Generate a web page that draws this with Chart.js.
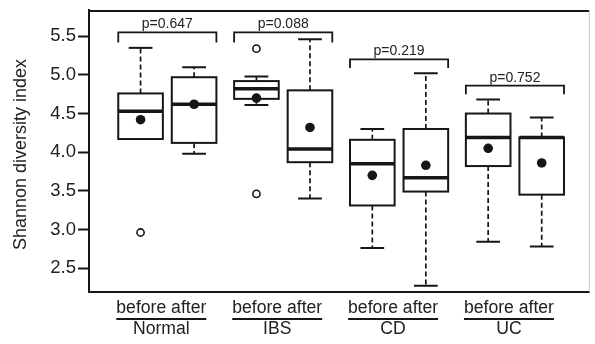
<!DOCTYPE html>
<html>
<head>
<meta charset="utf-8">
<script src="https://cdn.jsdelivr.net/npm/chart.js@4"></script>
<style>
  body { margin: 0; background: #fff; }
  canvas { display: block; background: #fff; }
</style>
</head>
<body>
<canvas id="chart" width="595" height="344"></canvas>
<script>
// groups and time points
const groups = ['Normal', 'IBS', 'CD', 'UC'];
const timepoints = ['before', 'after'];
const pValues = ['p=0.647', 'p=0.088', 'p=0.219', 'p=0.752'];
const yTitle = 'Shannon diversity index';

// box statistics, order: Normal before, Normal after, IBS before, ...
const whiskerLow  = [4.17, 3.98, 4.61, 3.40, 2.76, 2.27, 2.84, 2.78];
const q1          = [4.17, 4.12, 4.69, 3.87, 3.31, 3.49, 3.82, 3.45];
const medians     = [4.53, 4.62, 4.82, 4.04, 3.85, 3.67, 4.19, 4.19];
const q3          = [4.76, 4.97, 4.92, 4.80, 4.16, 4.30, 4.50, 4.19];
const whiskerHigh = [5.35, 5.10, 4.98, 5.46, 4.30, 5.02, 4.68, 4.45];
const means       = [4.42, 4.62, 4.70, 4.32, 3.70, 3.83, 4.05, 3.86];
const outliers    = [[2.96], [], [5.34, 3.46], [], [], [], [], []];

// bracket heights for the p-values (top line, end of legs)
const bracketTop = [5.55, 5.55, 5.20, 4.86];
const bracketLeg = [5.42, 5.42, 5.09, 4.75];

const yTicks = [2.5, 3.0, 3.5, 4.0, 4.5, 5.0, 5.5];

// layout constants
const PAIR_OFFSET = 0.231;
const BOX_W = 0.385;
const CAP_W = 0.205;
const INK = '#161616';
const FONT = '"Liberation Sans", Arial, sans-serif';

function xPos(i) {
    const g = Math.floor(i / 2);
    return g + (i % 2 === 0 ? -PAIR_OFFSET : PAIR_OFFSET);
}

const meanPoints = means.map((v, i) => ({ x: xPos(i), y: v }));
const outlierPoints = [];
outliers.forEach((list, i) => list.forEach(v => outlierPoints.push({ x: xPos(i), y: v })));

const boxPlugin = {
    id: 'boxes',
    beforeDatasetsDraw(chart) {
        const { ctx, scales: { x, y } } = chart;
        ctx.save();
        ctx.strokeStyle = INK;
        for (let i = 0; i < medians.length; i++) {
            const cx = x.getPixelForValue(xPos(i));
            const hw = (x.getPixelForValue(BOX_W) - x.getPixelForValue(0)) / 2;
            const cw = (x.getPixelForValue(CAP_W) - x.getPixelForValue(0)) / 2;
            const yq1 = y.getPixelForValue(q1[i]);
            const yq3 = y.getPixelForValue(q3[i]);
            const ylo = y.getPixelForValue(whiskerLow[i]);
            const yhi = y.getPixelForValue(whiskerHigh[i]);
            const ymed = y.getPixelForValue(medians[i]);

            // whiskers (dashed)
            ctx.lineWidth = 1.7;
            ctx.setLineDash([5, 3]);
            ctx.beginPath();
            if (whiskerHigh[i] > q3[i]) { ctx.moveTo(cx, yq3); ctx.lineTo(cx, yhi); }
            if (whiskerLow[i] < q1[i]) { ctx.moveTo(cx, yq1); ctx.lineTo(cx, ylo); }
            ctx.stroke();
            ctx.setLineDash([]);

            // caps
            ctx.lineWidth = 2;
            ctx.beginPath();
            if (whiskerHigh[i] > q3[i]) { ctx.moveTo(cx - cw, yhi); ctx.lineTo(cx + cw, yhi); }
            if (whiskerLow[i] < q1[i]) { ctx.moveTo(cx - cw, ylo); ctx.lineTo(cx + cw, ylo); }
            ctx.stroke();

            // box
            ctx.fillStyle = '#fff';
            ctx.fillRect(cx - hw, yq3, hw * 2, yq1 - yq3);
            ctx.lineWidth = 2;
            ctx.strokeRect(cx - hw, yq3, hw * 2, yq1 - yq3);

            // median
            ctx.lineWidth = 3.5;
            ctx.beginPath();
            ctx.moveTo(cx - hw, ymed);
            ctx.lineTo(cx + hw, ymed);
            ctx.stroke();
        }
        ctx.restore();
    },
    afterDraw(chart) {
        const { ctx, chartArea: a, scales: { x, y } } = chart;
        ctx.save();

        // frame
        ctx.strokeStyle = INK;
        ctx.lineWidth = 2;
        ctx.beginPath();
        ctx.moveTo(a.left, a.top + 1);
        ctx.lineTo(a.right, a.top + 1);
        ctx.moveTo(a.left, a.bottom);
        ctx.lineTo(a.right, a.bottom);
        ctx.stroke();
        ctx.strokeStyle = '#c8c8c8';
        ctx.lineWidth = 1;
        ctx.beginPath();
        ctx.moveTo(a.right - 0.5, a.top);
        ctx.lineTo(a.right - 0.5, a.bottom);
        ctx.stroke();

        // y axis title
        ctx.fillStyle = '#222';
        ctx.font = '18px ' + FONT;
        ctx.textAlign = 'center';
        ctx.textBaseline = 'middle';
        ctx.save();
        ctx.translate(21, 154.5);
        ctx.rotate(-Math.PI / 2);
        ctx.fillText(yTitle, 0, 0);
        ctx.restore();

        // p-value brackets
        ctx.strokeStyle = INK;
        ctx.lineWidth = 1.8;
        ctx.textBaseline = 'alphabetic';
        ctx.font = '14px ' + FONT;
        groups.forEach((g, gi) => {
            const l = x.getPixelForValue(gi - PAIR_OFFSET - BOX_W / 2);
            const r = x.getPixelForValue(gi + PAIR_OFFSET + BOX_W / 2);
            const yt = y.getPixelForValue(bracketTop[gi]);
            const yl = y.getPixelForValue(bracketLeg[gi]);
            ctx.beginPath();
            ctx.moveTo(l, yl);
            ctx.lineTo(l, yt);
            ctx.lineTo(r, yt);
            ctx.lineTo(r, yl);
            ctx.stroke();
            ctx.fillText(pValues[gi], x.getPixelForValue(gi), yt - 4);
        });

        // group labels under the axis
        ctx.font = '17.6px ' + FONT;
        groups.forEach((g, gi) => {
            const cx = x.getPixelForValue(gi) - 6;
            const sub = timepoints.join(' ');
            ctx.fillText(sub, cx, a.bottom + 21);
            const w = ctx.measureText(sub).width;
            ctx.lineWidth = 2;
            ctx.beginPath();
            ctx.moveTo(cx - w / 2, a.bottom + 27);
            ctx.lineTo(cx + w / 2, a.bottom + 27);
            ctx.stroke();
            ctx.fillText(g, cx, a.bottom + 41.5);
        });
        ctx.restore();
    }
};

new Chart(document.getElementById('chart'), {
    type: 'scatter',
    data: {
        datasets: [
            {
                label: 'mean',
                data: meanPoints,
                pointRadius: 4.8,
                pointBackgroundColor: INK,
                pointBorderWidth: 0,
                pointHoverRadius: 4.8
            },
            {
                label: 'outlier',
                data: outlierPoints,
                pointRadius: 3.6,
                pointBackgroundColor: '#fff',
                pointBorderColor: INK,
                pointBorderWidth: 1.6,
                pointHoverRadius: 3.6
            }
        ]
    },
    options: {
        responsive: false,
        animation: false,
        devicePixelRatio: 1,
        layout: { padding: { top: 10, right: 1, bottom: 52, left: 0 } },
        plugins: { legend: { display: false }, tooltip: { enabled: false } },
        scales: {
            x: {
                type: 'linear',
                display: false,
                min: -0.676,
                max: 3.646
            },
            y: {
                min: 2.19,
                max: 5.84,
                afterBuildTicks: (scale) => { scale.ticks = yTicks.map(v => ({ value: v })); },
                afterFit: (scale) => {
                    scale.width = 89;
                    scale.paddingTop = 0;
                    scale.paddingBottom = 0;
                },
                border: { display: true, color: INK, width: 2 },
                grid: {
                    drawOnChartArea: false,
                    drawTicks: true,
                    tickLength: 11,
                    tickWidth: 2,
                    tickColor: INK
                },
                ticks: {
                    padding: 2,
                    color: '#222',
                    font: { family: FONT, size: 18.5 },
                    callback: (v) => Number(v).toFixed(1)
                },
                title: { display: false }
            }
        }
    },
    plugins: [boxPlugin]
});
</script>
</body>
</html>
